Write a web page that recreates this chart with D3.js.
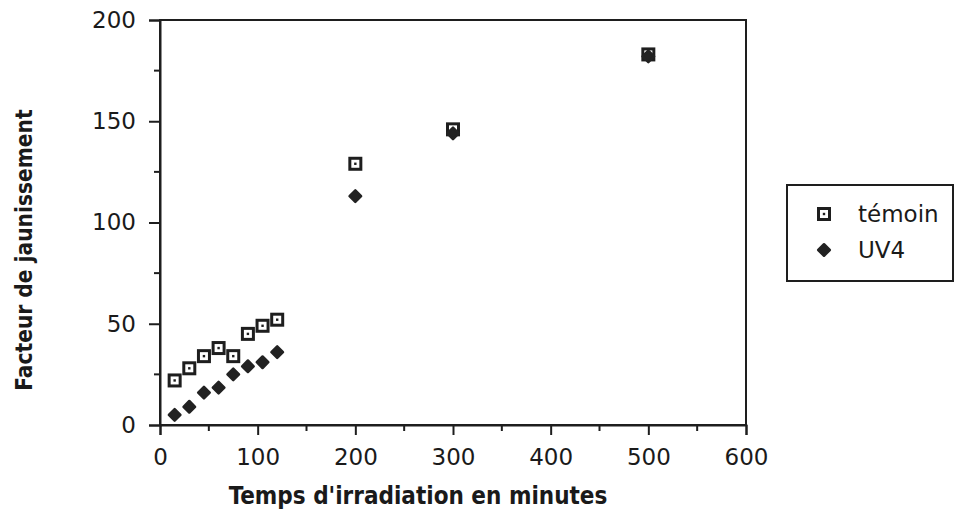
<!DOCTYPE html>
<html><head><meta charset="utf-8">
<script src="https://cdn.jsdelivr.net/npm/d3@7"></script>
<style>body{margin:0;background:#fff}svg{display:block}</style>
</head><body>
<svg id="c" width="955" height="515"></svg>
<script>
const times = [15, 30, 45, 60, 75, 90, 105, 120, 200, 300, 500];
const temoin = [22, 28, 34, 38, 34, 45, 49, 52, 129, 146, 183];
const uv4 = [5, 9, 16, 18.5, 25, 29, 31, 36, 113, 144, 182];
const xTicks = [0, 100, 200, 300, 400, 500, 600];
const yTicks = [0, 50, 100, 150, 200];
const seriesNames = ["témoin", "UV4"];

const svg = d3.select("#c");
const x = d3.scaleLinear().domain([0, 600]).range([160, 746]);
const y = d3.scaleLinear().domain([0, 200]).range([425, 20]);
const ink = "#1e1e1e";
const font = "'DejaVu Sans', Verdana, sans-serif";
const tfont = "'DejaVu Sans Condensed', 'DejaVu Sans', sans-serif";

// frame
svg.append("rect").attr("x", x(0)).attr("y", y(200)).attr("width", x(600) - x(0)).attr("height", y(0) - y(200))
  .attr("fill", "none").attr("stroke", ink).attr("stroke-width", 2);

// minor ticks
const xMinor = d3.range(50, 600, 100);
const yMinor = d3.range(25, 200, 50);
svg.selectAll(".xm").data(xMinor).join("line").attr("x1", d => x(d)).attr("x2", d => x(d))
  .attr("y1", y(0)).attr("y2", y(0) + 6).attr("stroke", ink).attr("stroke-width", 2);
svg.selectAll(".ym").data(yMinor).join("line").attr("y1", d => y(d)).attr("y2", d => y(d))
  .attr("x1", x(0)).attr("x2", x(0) - 6).attr("stroke", ink).attr("stroke-width", 2);

const xAxis = svg.append("g").attr("transform", `translate(0,${y(0)})`)
  .call(d3.axisBottom(x).tickValues(xTicks).tickSize(10).tickPadding(14).tickFormat(d3.format("d")));
const yAxis = svg.append("g").attr("transform", `translate(${x(0)},0)`)
  .call(d3.axisLeft(y).tickValues(yTicks).tickSize(11).tickPadding(13).tickFormat(d3.format("d")));
[xAxis, yAxis].forEach(g => {
  g.select(".domain").attr("stroke", ink).attr("stroke-width", 2);
  g.selectAll(".tick line").attr("stroke", ink).attr("stroke-width", 2);
  g.selectAll(".tick text").attr("fill", "#1a1a1a").style("font-family", font).style("font-size", "23px");
});

// axis titles
svg.append("text").attr("x", 418).attr("y", 504).attr("text-anchor", "middle")
  .style("font-family", tfont).style("font-stretch", "condensed").style("font-size", "24px").style("font-weight", "bold").attr("fill", "#1a1a1a")
  .text("Temps d'irradiation en minutes");
svg.append("text").attr("transform", "translate(32,250) rotate(-90)").attr("text-anchor", "middle")
  .style("font-family", tfont).style("font-stretch", "condensed").style("font-size", "22.5px").style("font-weight", "bold").attr("fill", "#1a1a1a")
  .text("Facteur de jaunissement");

function square(g) {
  g.append("rect").attr("x", -5.5).attr("y", -5.5).attr("width", 11).attr("height", 11)
    .attr("fill", "#fff").attr("stroke", ink).attr("stroke-width", 3);
  g.append("rect").attr("x", -1.2).attr("y", -1.2).attr("width", 2.4).attr("height", 2.4).attr("fill", ink);
}
function diamond(g) {
  g.append("path").attr("d", d3.symbol(d3.symbolDiamond2, 85)()).attr("fill", "#222")
    .attr("stroke", "#222").attr("stroke-width", 2.5).attr("stroke-linejoin", "round");
}

const pts = times.map((t, i) => ({t, a: temoin[i], b: uv4[i]}));
svg.selectAll(".sq").data(pts).join("g").attr("transform", d => `translate(${x(d.t)},${y(d.a)})`).each(function() { square(d3.select(this)); });
svg.selectAll(".dm").data(pts).join("g").attr("transform", d => `translate(${x(d.t)},${y(d.b)})`).each(function() { diamond(d3.select(this)); });

// legend
const lg = svg.append("g");
lg.append("rect").attr("x", 787).attr("y", 185).attr("width", 166).attr("height", 96)
  .attr("fill", "#fff").attr("stroke", ink).attr("stroke-width", 2);
const l1 = lg.append("g").attr("transform", "translate(824,214)"); square(l1);
const l2 = lg.append("g").attr("transform", "translate(824,250)"); diamond(l2);
lg.selectAll(".lt").data(seriesNames).join("text").attr("x", 858).attr("y", (d, i) => 222 + i * 36)
  .style("font-family", font).style("font-size", "23px").attr("fill", "#1a1a1a").text(d => d);
</script>
</body></html>
